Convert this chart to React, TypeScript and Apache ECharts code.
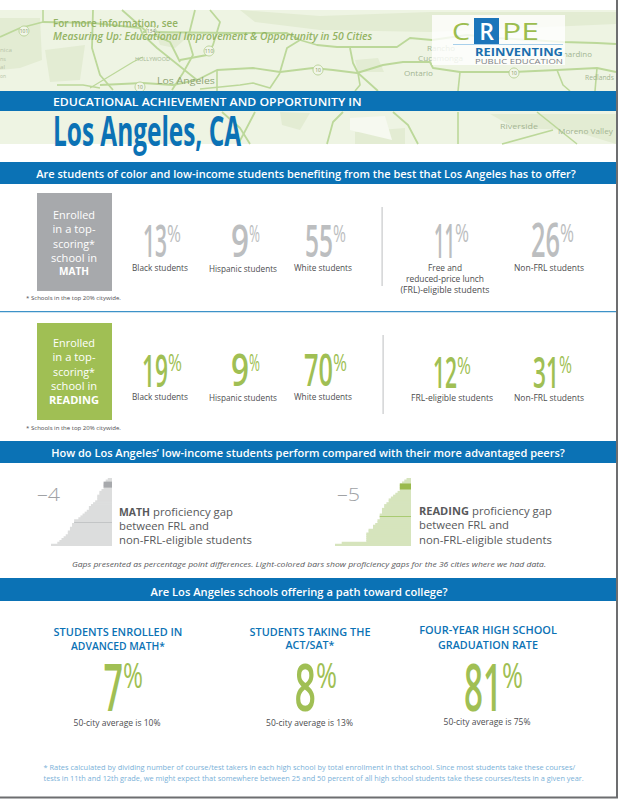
import React, { useEffect, useRef } from "react";
import * as echarts from "echarts";

const FONT = '"Open Sans", sans-serif';
const BLUE = "#0b72b5";
const GREEN = "#a0bf54";
const GREY_BIG = "#bcbec0";
const LABEL = "#4d4d4f";

const mathGaps = [-2,-3,-3,-4,-4,-4,-5,-6,-6,-7,-7,-7,-8,-9,-10,-11,-11,-12,-13,-14,-15,-16,-18,-18,-19,-19,-20,-20,-21,-21,-22,-23,-24,-25,-26,-29];
const readingGaps = [-2,-3,-4,-5,-5,-5,-5,-6,-7,-8,-9,-10,-10,-11,-12,-12,-13,-13,-13,-14,-14,-14,-15,-15,-16,-17,-17,-19,-19,-20,-20,-20,-20,-20,-31,-34];
const mathLosAngeles = -4;
const readingLosAngeles = -5;
const mathRow = 3;
const readingRow = 4;
const mathMedianRow = 23;
const readingMedianRow = 20;
const cityRanks = mathGaps.map((_, i) => String(i + 1));

const mathEnrolled = [13, 9, 55, 11, 26];
const readingEnrolled = [19, 9, 70, 12, 31];
const collegeValues = [7, 8, 81];
const cityAverages = [10, 13, 75];

const measureCtx = document.createElement("canvas").getContext("2d") as CanvasRenderingContext2D;

type TOpt = { size: number; color: string; weight?: number | string; italic?: boolean; align?: string; w?: number; z?: number };
function t(text: string, x: number, y: number, o: TOpt) {
  const font = `${o.italic ? "italic " : ""}${o.weight ?? 400} ${o.size}px ${FONT}`;
  measureCtx.font = font;
  const natural = measureCtx.measureText(text).width;
  const scaleX = o.w ? o.w / natural : 1;
  return { type: "text", x, y, scaleX, silent: true, z: o.z ?? 20, style: { text, font, fill: o.color, align: o.align ?? "left", verticalAlign: "middle" } };
}
const r = (x: number, y: number, width: number, height: number, fill: string, z = 5, opacity = 1) => ({ type: "rect", silent: true, z, shape: { x, y, width, height }, style: { fill, opacity } });
const road = (points: number[][], w = 1.6) => ({
  type: "polyline", silent: true, z: 2,
  shape: { points },
  style: { stroke: "#bcd89a", lineWidth: w, fill: "none", lineJoin: "round" },
});
const patch = (points: number[][], fill = "#e3ecd3") => ({
  type: "polygon", silent: true, z: 1,
  shape: { points },
  style: { fill },
});
const mapLabel = (s: string, x: number, y: number, w: number, size = 8, color = "#a3b592") => t(s, x, y, { size, color, w, z: 3 });
const badge = (s: string, x: number, y: number) => [
  { type: "circle", silent: true, z: 3, shape: { cx: x, cy: y, r: 5 }, style: { fill: "#f1f6e8", stroke: "#b5cf92", lineWidth: 0.9 } },
  t(s, x, y, { size: 5, color: "#7d9160", align: "center", z: 3 }),
];

function bigNum(value: number, x0: number, x1: number, pctEnd: number, top: number, bottom: number, color: string) {
  const h = bottom - top;
  const size = h / 0.714;
  return [
    t(String(value), x0, (top + bottom) / 2, { size, color, w: x1 - x0, weight: 600 }),
    t("%", x1, top + h * 0.27, { size: h * 0.75, color, w: pctEnd - x1, weight: 400 }),
  ];
}

function bars(gaps: number[], row: number, la: number, medianRow: number, median: number, ax: number, light: string, dark: string, lineCol: string) {
  return [
    {
      type: "bar", xAxisIndex: ax, yAxisIndex: ax * 2, data: gaps, barWidth: 2.6, silent: true, z: 2,
      itemStyle: { color: light },
      markLine: {
        silent: true, symbol: "none", label: { show: false }, lineStyle: { color: lineCol, width: 1, type: "solid" },
        data: [[{ coord: [median, cityRanks[medianRow]] }, { coord: [0, cityRanks[medianRow]] }]],
      },
    },
    {
      type: "bar", xAxisIndex: ax, yAxisIndex: ax * 2 + 1, barWidth: 6, silent: true, z: 3,
      data: gaps.map((_, i) => (i === row ? la : null)),
      itemStyle: { color: dark },
    },
  ];
}

export default function App() {
  const ref = useRef<HTMLDivElement>(null);
  useEffect(() => {
    document.body.style.margin = "0";
    const chart = echarts.init(ref.current!, null, { renderer: "svg" });

    const boxLine = (s: string, y: number, w: number, bold = false) =>
      t(s, 74, y, { size: bold ? 11 : 11.5, color: "#ffffff", align: "center", w, weight: bold ? 700 : 400 });

    const graphics: any[] = [
      // map
      r(0, 10, 616, 134, "#eef4e3", 0),
      patch([[240, 10], [320, 16], [430, 12], [616, 12], [616, 24], [430, 32], [320, 30], [255, 22]]),
      patch([[0, 18], [40, 18], [42, 60], [20, 68], [0, 70]]),
      patch([[45, 50], [85, 45], [80, 80], [50, 82]]),
      patch([[155, 30], [190, 35], [175, 48], [160, 45]]),
      patch([[355, 60], [378, 58], [384, 72], [358, 72]]),
      patch([[280, 112], [310, 113], [300, 130], [282, 125]]),
      patch([[355, 132], [405, 128], [405, 144], [355, 144]]),
      patch([[490, 114], [616, 114], [616, 144], [570, 130], [515, 128]]),
      patch([[350, 118], [385, 116], [392, 140], [350, 130]], "#f6f9f0"),
      road([[0, 37], [20, 28], [43, 22], [93, 23], [140, 28], [143, 35], [157, 48], [182, 68], [197, 80]], 1.8),
      road([[43, 10], [43, 22]]),
      road([[93, 10], [92, 48], [100, 75], [113, 90]], 1.8),
      road([[122, 10], [147, 32], [170, 42], [180, 62]], 1.8),
      road([[195, 10], [188, 38], [193, 55], [183, 73], [172, 90]], 1.8),
      road([[210, 10], [220, 22], [213, 45], [207, 55], [180, 60]], 1.8),
      road([[143, 32], [233, 33], [287, 33], [300, 40]], 1.8),
      road([[90, 88], [133, 62], [143, 57]], 1.2),
      road([[57, 85], [83, 85], [100, 88]]),
      road([[100, 85], [143, 83], [173, 85], [197, 80], [217, 70], [253, 68], [280, 72], [313, 68], [333, 70], [357, 73], [383, 65], [403, 62], [430, 62], [433, 68], [460, 72], [513, 72], [557, 70], [597, 68], [616, 72]], 1.9),
      road([[217, 70], [217, 91]]),
      road([[280, 72], [287, 48], [300, 40], [317, 45], [337, 47], [397, 47], [410, 38], [432, 40], [467, 35], [497, 38], [563, 42], [597, 43], [616, 44]], 1.8),
      road([[280, 73], [270, 88], [253, 83], [240, 85], [200, 89]]),
      road([[350, 48], [353, 63], [358, 73], [378, 91]], 1.8),
      road([[358, 73], [360, 85], [355, 91]]),
      road([[460, 72], [458, 91]]),
      road([[557, 70], [563, 85], [570, 91]]),
      road([[597, 68], [595, 91]]),
      road([[343, 112], [333, 122], [327, 144]], 1.8),
      road([[393, 112], [408, 125], [418, 144]], 1.8),
      road([[255, 112], [243, 135], [238, 144]], 1.8),
      road([[222, 112], [240, 128], [250, 144]], 1.8),
      road([[458, 112], [458, 144]]),
      road([[537, 112], [577, 144]]),
      road([[553, 130], [502, 144]]),
      mapLabel("Los Angeles", 157, 80, 58, 9.5, "#8fa574"),
      mapLabel("Ontario", 404, 73, 29, 8),
      mapLabel("Rancho", 427, 48, 28),
      mapLabel("Cucamonga", 418, 58, 45),
      mapLabel("nardino", 563, 53, 29),
      mapLabel("Riverside", 500, 126, 38),
      mapLabel("Moreno Valley", 558, 131, 55),
      mapLabel("Redlands", 585, 77, 29),
      mapLabel("HOLLYWOOD", 135, 59, 35, 5),
      mapLabel("nica", 0, 50, 12, 5.5, "#b8c4a8"),
      mapLabel("ns", 0, 59, 6, 5.5, "#b8c4a8"),
      mapLabel("al", 0, 67, 5, 5.5, "#b8c4a8"),
      mapLabel("on", 0, 76, 6, 5.5, "#b8c4a8"),
      ...badge("101", 24, 31),
      ...badge("134", 151, 31),
      ...badge("110", 209, 51),
      ...badge("10", 318, 70),
      ...badge("10", 514, 73),
      ...badge("10", 140, 87),
      t("For more information, see", 53, 23, { size: 10.5, color: "#93b363", w: 125, weight: 600 }),
      t("Measuring Up: Educational Improvement & Opportunity in 50 Cities", 53, 36, { size: 10.5, color: "#93b363", italic: true, w: 320, weight: 600 }),

      // logo
      r(432, 15, 133, 50, "#ffffff", 4, 0.8),
      t("C", 452, 31, { size: 24, color: "#9cbd4f", w: 18 }),
      r(474, 18, 25, 26, "#1b75ba"),
      t("R", 486.5, 31, { size: 23, color: "#ffffff", weight: 600, align: "center" }),
      t("PE", 502, 31, { size: 24, color: "#9cbd4f", w: 37 }),
      r(453, 44, 110, 0.8, "#8cc1e6"),
      t("REINVENTING", 475, 52, { size: 10, color: "#1b6fae", weight: 700, w: 88 }),
      t("PUBLIC EDUCATION", 475, 61.5, { size: 7, color: "#7f8285", w: 88 }),

      // title
      r(0, 91, 616, 20, BLUE),
      t("EDUCATIONAL ACHIEVEMENT AND OPPORTUNITY IN", 53, 101, { size: 11.5, color: "#ffffff", weight: 600, w: 309 }),
      t("Los Angeles, CA", 53, 129, { size: 42, color: BLUE, weight: 700, w: 188 }),

      // section 1
      r(0, 162, 616, 22, BLUE),
      t("Are students of color and low-income students benefiting from the best that Los Angeles has to offer?", 306, 173, { size: 11.5, color: "#ffffff", weight: 600, align: "center", w: 540 }),

      r(37, 193, 75, 98, "#a7a9ac"),
      boxLine("Enrolled", 214, 42),
      boxLine("in a top-", 228.5, 43),
      boxLine("scoring*", 243, 42),
      boxLine("school in", 257, 46),
      boxLine("MATH", 271, 30, true),
      t("* Schools in the top 20% citywide.", 26, 298, { size: 5.8, color: LABEL, w: 95 }),
      ...bigNum(mathEnrolled[0], 143, 167, 181, 224, 256, GREY_BIG),
      ...bigNum(mathEnrolled[1], 231, 249, 260, 224, 256, GREY_BIG),
      ...bigNum(mathEnrolled[2], 305, 333, 346, 224, 256, GREY_BIG),
      t("Black students", 160, 268, { size: 8.2, color: LABEL, align: "center", w: 56 }),
      t("Hispanic students", 243, 268, { size: 8.2, color: LABEL, align: "center", w: 68 }),
      t("White students", 323, 268, { size: 8.2, color: LABEL, align: "center", w: 58 }),
      r(381.5, 207, 1.2, 79, "#c8c9cb"),
      ...bigNum(mathEnrolled[3], 434, 455, 469, 223, 256, GREY_BIG),
      ...bigNum(mathEnrolled[4], 531, 560, 574, 223, 256, GREY_BIG),
      t("Free and", 445, 268, { size: 8.2, color: LABEL, align: "center", w: 34 }),
      t("reduced-price lunch", 445, 278.5, { size: 8.2, color: LABEL, align: "center", w: 78 }),
      t("(FRL)-eligible students", 445, 290, { size: 8.2, color: LABEL, align: "center", w: 89 }),
      t("Non-FRL students", 549, 268, { size: 8.2, color: LABEL, align: "center", w: 70 }),

      r(0, 311, 616, 1.2, "#3d92c8"),

      r(37, 323, 75, 97, GREEN),
      boxLine("Enrolled", 342, 42),
      boxLine("in a top-", 356.5, 43),
      boxLine("scoring*", 371, 42),
      boxLine("school in", 385, 46),
      boxLine("READING", 399.5, 50, true),
      t("* Schools in the top 20% citywide.", 26, 428, { size: 5.8, color: LABEL, w: 95 }),
      ...bigNum(readingEnrolled[0], 142, 168, 182, 353, 385, GREEN),
      ...bigNum(readingEnrolled[1], 231, 249, 260, 353, 385, GREEN),
      ...bigNum(readingEnrolled[2], 304, 333, 347, 353, 385, GREEN),
      t("Black students", 160, 397, { size: 8.2, color: LABEL, align: "center", w: 56 }),
      t("Hispanic students", 243, 397, { size: 8.2, color: LABEL, align: "center", w: 68 }),
      t("White students", 323, 397, { size: 8.2, color: LABEL, align: "center", w: 58 }),
      r(382.5, 335, 1.2, 79, "#c8c9cb"),
      ...bigNum(readingEnrolled[3], 433, 457, 471, 356, 387, GREEN),
      ...bigNum(readingEnrolled[4], 533, 559, 572, 356, 387, GREEN),
      t("FRL-eligible students", 452, 398, { size: 8.2, color: LABEL, align: "center", w: 82 }),
      t("Non-FRL students", 549, 398, { size: 8.2, color: LABEL, align: "center", w: 70 }),

      // section 2
      r(0, 441, 616, 22, BLUE),
      t("How do Los Angeles\u2019 low-income students perform compared with their more advantaged peers?", 308, 452, { size: 11.5, color: "#ffffff", weight: 600, align: "center", w: 514 }),
      t("\u2013" + Math.abs(mathLosAngeles), 37, 494, { size: 19, color: "#a0a2a5", weight: 300, w: 23 }),
      t("\u2013" + Math.abs(readingLosAngeles), 337, 494, { size: 19, color: "#a0a2a5", weight: 300, w: 23 }),
      t("MATH", 119, 512, { size: 10.2, color: "#58595b", weight: 700, w: 31 }),
      t("proficiency gap", 153, 512, { size: 10.2, color: "#58595b", w: 80 }),
      t("between FRL and", 119, 526, { size: 10.2, color: "#58595b", w: 90 }),
      t("non-FRL-eligible students", 119, 540, { size: 10.2, color: "#58595b", w: 133 }),
      t("READING", 419, 511, { size: 10.2, color: "#58595b", weight: 700, w: 50 }),
      t("proficiency gap", 472, 511, { size: 10.2, color: "#58595b", w: 80 }),
      t("between FRL and", 419, 525, { size: 10.2, color: "#58595b", w: 90 }),
      t("non-FRL-eligible students", 419, 540, { size: 10.2, color: "#58595b", w: 133 }),
      t("Gaps presented as percentage point differences. Light-colored bars show proficiency gaps for the 36 cities where we had data.", 309, 564, { size: 7.2, color: "#58595b", italic: true, align: "center", w: 474 }),

      // section 3
      r(0, 578, 616, 23, BLUE),
      t("Are Los Angeles schools offering a path toward college?", 299, 591, { size: 11.5, color: "#ffffff", weight: 600, align: "center", w: 297 }),
      t("STUDENTS ENROLLED IN", 118, 632, { size: 10.5, color: BLUE, weight: 600, align: "center", w: 129 }),
      t("ADVANCED MATH*", 118, 645.5, { size: 10.5, color: BLUE, weight: 600, align: "center", w: 94 }),
      t("STUDENTS TAKING THE", 310, 632, { size: 10.5, color: BLUE, weight: 600, align: "center", w: 121 }),
      t("ACT/SAT*", 310, 645.5, { size: 10.5, color: BLUE, weight: 600, align: "center", w: 49 }),
      t("FOUR-YEAR HIGH SCHOOL", 488, 630.5, { size: 10.5, color: BLUE, weight: 600, align: "center", w: 138 }),
      t("GRADUATION RATE", 488, 645, { size: 10.5, color: BLUE, weight: 600, align: "center", w: 100 }),
      ...bigNum(collegeValues[0], 103.5, 123, 143, 662, 709, GREEN),
      ...bigNum(collegeValues[1], 294.5, 316, 337, 662, 709, GREEN),
      ...bigNum(collegeValues[2], 464, 502, 523, 662, 709, GREEN),
      t(`50-city average is ${cityAverages[0]}%`, 117, 723, { size: 8.5, color: LABEL, align: "center", w: 87 }),
      t(`50-city average is ${cityAverages[1]}%`, 309.5, 723, { size: 8.5, color: LABEL, align: "center", w: 87 }),
      t(`50-city average is ${cityAverages[2]}%`, 487, 722, { size: 8.5, color: LABEL, align: "center", w: 87 }),
      t("* Rates calculated by dividing number of course/test takers in each high school by total enrollment in that school. Since most students take these courses/", 43.5, 767, { size: 7.3, color: "#7ab1d8", w: 532 }),
      t("tests in 11th and 12th grade, we might expect that somewhere between 25 and 50 percent of all high school students take these courses/tests in a given year.", 43.5, 778, { size: 7.3, color: "#7ab1d8", w: 541 }),

      // page edge
      r(616, 0, 2, 798, "#6d6e70", 30),
      r(0, 796.5, 618, 2, "#6d6e70", 30),
    ];

    const hiddenCat = (gridIndex: number) => ({ type: "category", gridIndex, data: cityRanks, inverse: true, show: false });
    chart.setOption({
      animation: false,
      backgroundColor: "#ffffff",
      grid: [
        { left: 51, top: 478, width: 61, height: 68, containLabel: false },
        { left: 335, top: 478, width: 76, height: 68, containLabel: false },
      ],
      xAxis: [
        { type: "value", gridIndex: 0, min: -29, max: 0, show: false },
        { type: "value", gridIndex: 1, min: -34, max: 0, show: false },
      ],
      yAxis: [hiddenCat(0), hiddenCat(0), hiddenCat(1), hiddenCat(1)],
      series: [
        ...bars(mathGaps, mathRow, mathLosAngeles, mathMedianRow, -18, 0, "#dcdddd", "#a7a9ac", "#c3c5c6"),
        ...bars(readingGaps, readingRow, readingLosAngeles, readingMedianRow, -14, 1, "#d6e4bd", "#9aba4d", "#a9cb72"),
      ],
      graphic: { elements: graphics },
    });
    return () => chart.dispose();
  }, []);
  return <div ref={ref} style={{ width: 619, height: 800 }} />;
}
